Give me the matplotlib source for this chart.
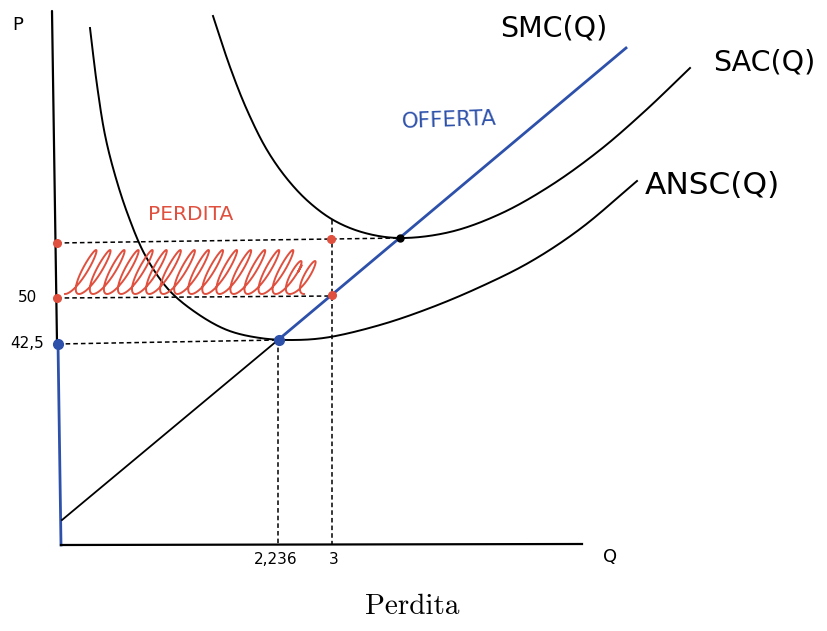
import numpy as np
import matplotlib
matplotlib.use("Agg")
import matplotlib.pyplot as plt

# ---- data (sketch units: Q horizontally, P vertically) ----
ansc_q = [0.30, 0.37, 0.45, 0.55, 0.68, 0.85, 1.08, 1.35, 1.67, 2.00, 2.33, 2.67, 3.20, 3.70, 4.20, 4.70, 5.20, 5.77]
ansc_p = [103.0, 91.6, 81.6, 73.6, 65.6, 57.6, 50.8, 46.2, 42.6, 41.0, 40.6, 41.1, 43.6, 47.0, 51.2, 56.2, 62.8, 72.4]

sac_q = [1.53, 1.70, 1.87, 2.07, 2.28, 2.50, 2.75, 3.05, 3.40, 3.90, 4.40, 4.90, 5.40, 5.85, 6.30]
sac_p = [105.4, 95.2, 86.6, 78.6, 72.6, 68.0, 64.4, 62.0, 61.0, 62.2, 65.8, 71.4, 78.6, 86.4, 95.0]

smc_q = [0.02, 2.18, 5.66]          # start, shutdown point, end
smc_p = [4.6, 40.6, 99.0]

# special points
q_min_ansc, p_min_ansc = 2.18, 40.6   # shutdown point
q_min_sac, p_min_sac = 3.40, 61.0     # break-even point
q_star = 2.72                          # produced quantity

y_tick_pos = [49.0, 39.8]
y_tick_labels = ["50", "42,5"]
x_tick_pos = [2.16, 2.74]
x_tick_labels = ["2,236", "3"]

BLUE = "#2d50aa"
RED = "#e0503f"


def smooth(xs, ys, n=30):
    """Centripetal Catmull-Rom curve through the read points."""
    P = np.column_stack([xs, ys]).astype(float)
    P = np.vstack([2 * P[0] - P[1], P, 2 * P[-1] - P[-2]])
    S = P * np.array([100.0, 5.0])
    out = []
    for i in range(1, len(P) - 2):
        p0, p1, p2, p3 = S[i - 1], S[i], S[i + 1], S[i + 2]
        t0 = 0.0
        t1 = t0 + np.linalg.norm(p1 - p0) ** 0.5
        t2 = t1 + np.linalg.norm(p2 - p1) ** 0.5
        t3 = t2 + np.linalg.norm(p3 - p2) ** 0.5
        t = np.linspace(t1, t2, n)[:, None]
        a1 = (t1 - t) / (t1 - t0) * p0 + (t - t0) / (t1 - t0) * p1
        a2 = (t2 - t) / (t2 - t1) * p1 + (t - t1) / (t2 - t1) * p2
        a3 = (t3 - t) / (t3 - t2) * p2 + (t - t2) / (t3 - t2) * p3
        b1 = (t2 - t) / (t2 - t0) * a1 + (t - t0) / (t2 - t0) * a2
        b2 = (t3 - t) / (t3 - t1) * a2 + (t - t1) / (t3 - t1) * a3
        c = (t2 - t) / (t2 - t1) * b1 + (t - t1) / (t2 - t1) * b2
        out.append(c if i == 1 else c[1:])
    C = np.vstack(out) / np.array([100.0, 5.0])
    return C[:, 0], C[:, 1]


fig = plt.figure(figsize=(8.27, 6.31), dpi=100)
ax = fig.add_axes([0, 0, 1, 1])
ax.set_xlim(-0.6, 7.67)
ax.set_ylim(-17.6, 108.6)
ax.axis("off")

# axes (hand drawn)
ax.plot([-0.08, -0.03], [106.4, 40.0], color="black", lw=1.6, solid_capstyle="round")
ax.plot([-0.02, 0.01], [40.0, -0.4], color=BLUE, lw=2.0)
ax.plot([0.01, 5.22], [-0.4, -0.2], color="black", lw=1.6)

# dashed guides
dash = dict(color="black", lw=1.1, ls=(0, (3, 2)))
ax.plot([-0.03, q_min_sac], [60.0, p_min_sac], **dash)
ax.plot([-0.03, q_star], [49.0, 49.4], **dash)
ax.plot([-0.02, q_min_ansc], [39.8, p_min_ansc], **dash)
ax.plot([q_min_ansc, q_min_ansc], [p_min_ansc, -0.3], **dash)
ax.plot([q_star, q_star], [64.6, -0.3], **dash)

# curves
ax.plot(*smooth(ansc_q, ansc_p), color="black", lw=1.4)
ax.plot(*smooth(sac_q, sac_p), color="black", lw=1.4)
ax.plot(smc_q[:2], smc_p[:2], color="black", lw=1.3)
ax.plot(smc_q[1:], smc_p[1:], color=BLUE, lw=2.0)

# scribbled loss area (decoration inside the loss rectangle)
x0, x1 = 0.05, 2.68
yb, yt = 49.8, 58.6
n_loops = 17
slant = 0.24
step = (x1 - x0 - slant) / n_loops
t = np.linspace(0, 2 * np.pi * n_loops, 5000)
u = t / (2 * np.pi * n_loops)
frac = (1 - np.cos(t)) / 2
shrink = np.where(u > 0.90, 0.75, 1.0)
adv = step * (1.5 * t + 2 * np.sin(t) + 0.25 * np.sin(2 * t)) / (3 * np.pi)
yy = yb + (yt - yb) * frac * shrink
xx = x0 + adv + slant * frac * shrink + 0.035 * np.sin(t)
ax.plot(xx, yy, color=RED, lw=1.4)

# dots
ax.plot([-0.03, -0.03, 2.71, 2.72], [60.0, 49.0, 60.8, 49.6], "o", color=RED, ms=5.5, zorder=5)
ax.plot([-0.02, q_min_ansc + 0.01], [39.8, p_min_ansc], "o", color=BLUE, ms=7, zorder=5)
ax.plot([q_min_sac], [p_min_sac], "o", color="black", ms=5, zorder=5)

# tick labels
for p, lab in zip(y_tick_pos, y_tick_labels):
    ax.text(-0.33, p, lab, ha="center", va="center", fontsize=11, family="DejaVu Sans")
for q, lab in zip(x_tick_pos, x_tick_labels):
    ax.text(q, -3.4, lab, ha="center", va="center", fontsize=11, family="DejaVu Sans")

# axis names
ax.text(-0.42, 103.6, "P", ha="center", va="center", fontsize=13)
ax.text(5.50, -2.8, "Q", ha="center", va="center", fontsize=13)

# curve labels
ax.text(4.40, 103.0, "SMC(Q)", ha="left", va="center", fontsize=20.5)
ax.text(6.53, 96.2, "SAC(Q)", ha="left", va="center", fontsize=20.5)
ax.text(5.85, 71.6, "ANSC(Q)", ha="left", va="center", fontsize=22.5)
ax.text(3.41, 84.6, "OFFERTA", ha="left", va="center", fontsize=15.5, color=BLUE, rotation=2)
ax.text(0.88, 65.6, "PERDITA", ha="left", va="center", fontsize=14.5, color=RED)

# caption
ax.text(3.52, -12.8, "Perdita", ha="center", va="center", fontsize=21, family="cmr10")

fig.savefig("out.png", dpi=100)
